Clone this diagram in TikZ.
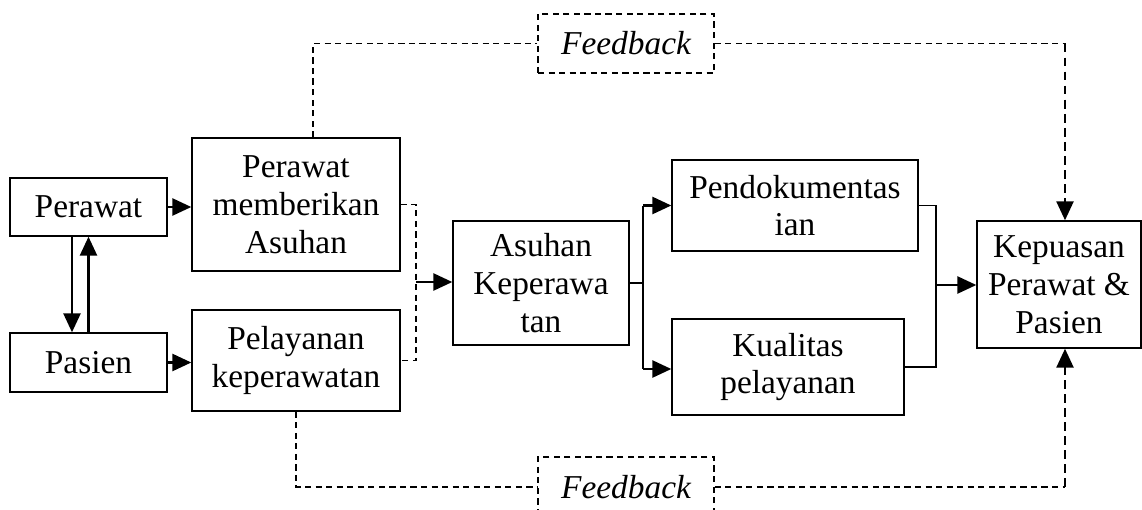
\documentclass[tikz,border=0pt]{standalone}
\usepackage{fontspec}
\setmainfont{Liberation Serif}
\usetikzlibrary{arrows.meta}
\tikzset{
  kotak/.style={draw, line width=0.8pt, align=center, inner sep=0pt, font=\fontsize{19}{21.5}\selectfont},
  kotakputus/.style={kotak, dash pattern=on 3.5pt off 2.5pt, font=\fontsize{19}{21.5}\selectfont\itshape},
  panah/.style={line width=1.5pt, -{Triangle[length=0.38cm,width=0.34cm]}},
  garis/.style={line width=0.8pt},
  putus/.style={line width=0.8pt, dash pattern=on 3.5pt off 2.5pt},
  putuspanah/.style={line width=1.4pt, dash pattern=on 5pt off 3pt, -{Triangle[length=0.38cm,width=0.34cm]}}
}
\begin{document}
\begin{tikzpicture}[x=0.02cm,y=-0.02cm]
\useasboundingbox (0,0) rectangle (1142,510);
\node[kotak, minimum width=3.14cm, minimum height=1.16cm] (perawat) at (88.5,207) {Perawat};
\node[kotak, minimum width=3.14cm, minimum height=1.18cm] (pasien) at (88.5,362.5) {Pasien};
\node[kotak, minimum width=4.16cm, minimum height=2.66cm] (asuhan) at (296,204.5) {Perawat\\memberikan\\Asuhan};
\node[kotak, minimum width=4.16cm, minimum height=2.02cm] (pelayanan) at (296,360.5) {Pelayanan\\keperawatan};
\node[kotak, minimum width=3.52cm, minimum height=2.48cm] (askep) at (541,283) {Asuhan\\Keperawa\\tan};
\node[kotak, minimum width=4.92cm, minimum height=1.82cm] (dokumen) at (795,205.5) {Pendokumentas\\ian};
\node[kotak, minimum width=4.64cm, minimum height=1.92cm] (kualitas) at (788,367) {Kualitas\\pelayanan};
\node[kotak, minimum width=3.28cm, minimum height=2.54cm] (kepuasan) at (1059,284.5) {Kepuasan\\Perawat \&\\Pasien};
\node[kotakputus, minimum width=3.52cm, minimum height=1.18cm] (fbatas) at (626,43.5) {Feedback};
\node[kotakputus, minimum width=3.52cm, minimum height=1.2cm] (fbbawah) at (626,487) {Feedback};
\coordinate (kiri) at (416,282);
\coordinate (tengah) at (643,283);
\coordinate (kanan) at (936,285);
\coordinate (atas) at (1065,43.5);
\coordinate (bawah) at (1065,487);
\draw[panah] (perawat.east) -- (perawat.east -| asuhan.west);
\draw[panah] (pasien.east) -- (pasien.east -| pelayanan.west);
\draw[panah] ([xshift=-0.33cm]perawat.south) -- ([xshift=-0.33cm]pasien.north);
\draw[panah] (pasien.north) -- (perawat.south);
\draw[putus] (asuhan.east) -- (asuhan.east -| kiri) -- (pelayanan.east -| kiri) -- (pelayanan.east);
\draw[panah] (kiri) -- (kiri -| askep.west);
\draw[garis] (askep.east) -- (tengah);
\draw[garis] (dokumen.west -| tengah) -- ([yshift=-0.04cm]kualitas.west -| tengah);
\draw[panah] (dokumen.west -| tengah) -- (dokumen.west);
\draw[panah] ([yshift=-0.04cm]kualitas.west -| tengah) -- ([yshift=-0.04cm]kualitas.west);
\draw[garis] (dokumen.east) -- (dokumen.east -| kanan) -- (kualitas.east -| kanan) -- (kualitas.east);
\draw[panah] (kanan) -- (kanan -| kepuasan.west);
\draw[putus] ([xshift=0.34cm]asuhan.north) |- (fbatas.west);
\draw[putus] (fbatas.east) -- (atas);
\draw[putuspanah] (atas) -- (atas |- kepuasan.north);
\draw[putus] (pelayanan.south) |- (fbbawah.west);
\draw[putus] (fbbawah.east) -- (bawah);
\draw[putuspanah] (bawah) -- (bawah |- kepuasan.south);
\end{tikzpicture}
\end{document}
